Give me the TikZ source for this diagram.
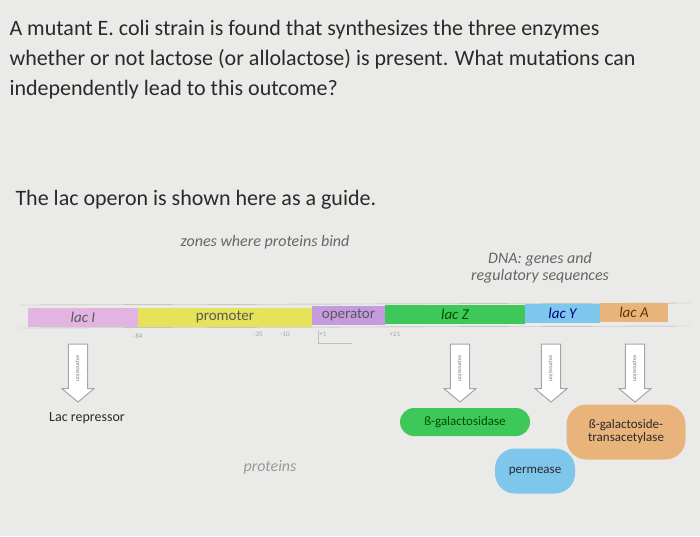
\documentclass[tikz,border=0pt]{standalone}
\usepackage{fontspec}
\setmainfont{Carlito}
\usetikzlibrary{shapes.arrows}
\definecolor{bg}{HTML}{EAEBE8}
\definecolor{txt}{HTML}{2A2A2A}
\definecolor{pinkc}{HTML}{E2B4E2}
\definecolor{yelc}{HTML}{E6E25A}
\definecolor{purc}{HTML}{C59BE0}
\definecolor{grnc}{HTML}{3EC85A}
\definecolor{bluc}{HTML}{7EC6EC}
\definecolor{orac}{HTML}{E8B47C}
\tikzset{
 seg/.style={draw=none,minimum height=19pt,inner sep=0pt,font=\fontsize{15}{16}\selectfont\itshape},
 expr/.style={single arrow,shape border rotate=270,draw=gray!70,fill=white,line width=1pt,minimum width=32pt,minimum height=58pt,single arrow head extend=6pt,single arrow tip angle=100,inner xsep=6pt,inner ysep=2pt,font=\fontsize{6}{6}\selectfont\color{gray}},
 prot/.style={rounded corners=14pt,inner sep=4pt,font=\fontsize{13}{13}\selectfont,text=txt,align=center},
 num/.style={font=\fontsize{7}{7}\selectfont,text=gray!70}
}
\begin{document}
\begin{tikzpicture}[x=1pt,y=-1pt]
\fill[bg] (0,0) rectangle (700,536);
\useasboundingbox (0,0) rectangle (700,536);
\node[anchor=west,text=txt,font=\fontsize{22}{30}\selectfont,align=left] (q) at (6,60) {A mutant E. coli strain is found that synthesizes the three enzymes\\whether or not lactose (or allolactose) is present. What mutations can\\independently lead to this outcome?};
\node[anchor=west,text=txt,font=\fontsize{22}{24}\selectfont] (g) at (12,200) {The lac operon is shown here as a guide.};
\node[text=gray!80!black,font=\fontsize{16}{17}\selectfont\itshape] (z) at (265,242) {zones where proteins bind};
\node[text=gray!80!black,font=\fontsize{16}{17}\selectfont\itshape,align=center] (d) at (540,268) {DNA: genes and\\regulatory sequences};
\draw[gray!60] (20,305) -- (690,303);
\draw[gray!60] (20,328) -- (690,326);
\node[seg,fill=pinkc,minimum width=110pt,text=gray!70!black] (li) at (83,317) {lac I};
\node[seg,fill=yelc,minimum width=174pt,font=\fontsize{15}{16}\selectfont,text=gray!70!black] (pr) at (225,317) {promoter};
\node[seg,fill=purc,minimum width=73pt,font=\fontsize{15}{16}\selectfont,text=gray!70!black] (op) at (348.5,315) {operator};
\node[seg,fill=grnc,minimum width=140pt,text=green!30!black] (lz) at (455,314) {lac Z};
\node[seg,fill=bluc,minimum width=75pt,text=blue!50!black] (ly) at (562.5,313) {lac Y};
\node[seg,fill=orac,minimum width=68pt,text=orange!40!black] (la) at (634,312) {lac A};
\node[num] (n1) at (138,336) {-84};
\node[num] (n2) at (258,334) {-35};
\node[num] (n3) at (285,334) {-10};
\node[num] (n4) at (323,334) {+1};
\node[num] (n5) at (395,334) {+21};
\draw[gray!50] (318,330) -- (318,343) -- (352,343);
\foreach \n/\x in {e1/78,e2/460,e3/551,e4/635}
  \node[expr] (\n) at (\x,369) {\rotatebox{-90}{expression}};
\node[text=txt,font=\fontsize{14}{15}\selectfont] (rep) at (87,418) {Lac repressor};
\node[text=gray!80,font=\fontsize{16}{17}\selectfont\itshape] (pt) at (270,467) {proteins};
\node[prot,fill=grnc,minimum width=130pt,minimum height=28pt,text=green!30!black] (bg) at (465,422) {ß-galactosidase};
\node[prot,fill=orac,minimum width=119pt,minimum height=55pt,rounded corners=20pt] (bt) at (626,432) {ß-galactoside-\\transacetylase};
\node[prot,fill=bluc,minimum width=80pt,minimum height=45pt,rounded corners=20pt] (pm) at (535,471) {permease};
\end{tikzpicture}
\end{document}
